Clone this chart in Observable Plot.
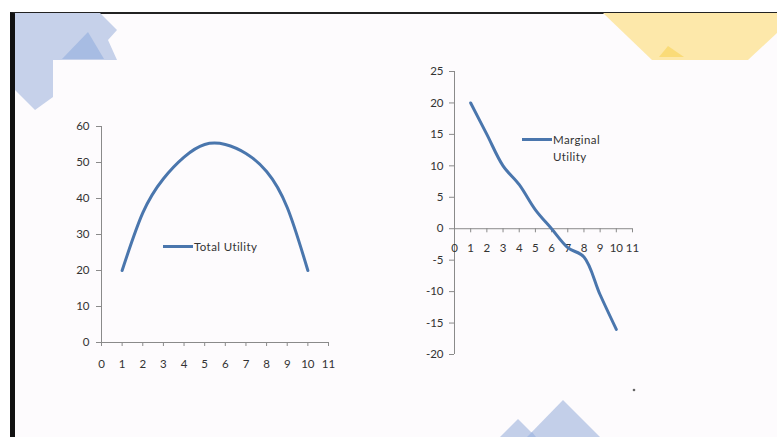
<!DOCTYPE html>
<html>
<head>
<meta charset="utf-8">
<script src="https://cdn.jsdelivr.net/npm/d3@7"></script>
<script src="https://cdn.jsdelivr.net/npm/@observablehq/plot@0.6"></script>
<style>
html, body { margin: 0; padding: 0; background: #ffffff; }
body { width: 777px; height: 437px; position: relative; overflow: hidden; font-family: Lato, "Open Sans", sans-serif; }
#slide { position: absolute; left: 10px; top: 12px; width: 767px; height: 425px; background: #fdfbfd;
  border-left: 5px solid #111; border-top: 2px solid #222; box-sizing: border-box; }
#deco { position: absolute; left: 0; top: 0; }
.chart { position: absolute; }
.legend { position: absolute; font-size: 11.5px; color: #333; line-height: 17px; display: flex; letter-spacing: 0.4px; }
.swatch { width: 30px; height: 3px; background: #4a76ad; margin-top: 7px; margin-right: 1px; flex: none; }
</style>
</head>
<body>
<div id="slide"></div>
<svg id="deco" width="777" height="437">
  <polygon points="15,13 100,13 117,30 108,40 117,60 53,60 53,97 35,110 15,90" fill="#c6d1ea"/>
  <polygon points="88,32 62,59 104,59" fill="#a7bce3"/>
  <polygon points="603,13 777,13 777,33 748,60 652,60" fill="#fde8aa"/>
  <polygon points="668,46 659,57 684,57" fill="#f8d662" opacity="0.7"/>
  <polygon points="563,400 527,437 600,437" fill="#c3cfe9"/>
  <polygon points="518,419 500,437 536,437" fill="#c3cfe9"/>
  <polygon points="527,437 532,432 536,437" fill="#a9bde3"/>
  <circle cx="634" cy="390" r="1.3" fill="#666"/>
</svg>
<div id="left" class="chart" style="left:60px; top:110px;"></div>
<div id="right" class="chart" style="left:410px; top:55px;"></div>
<div class="legend" style="left:163px; top:238px;"><div class="swatch"></div><div>Total Utility</div></div>
<div class="legend" style="left:522px; top:131px;"><div class="swatch"></div><div>Marginal<br>Utility</div></div>
<script>
// ---- data ----
const units = [1, 2, 3, 4, 5, 6, 7, 8, 9, 10];
const totalUtility = [20, 36, 45.5, 51.5, 55, 55, 52.5, 47.5, 37.5, 20];
const marginalUtility = [20, 15, 10, 7, 3, 0, -3, -4.5, -10.5, -16];
const xTicks = [0, 1, 2, 3, 4, 5, 6, 7, 8, 9, 10, 11];
const tuTicks = [0, 10, 20, 30, 40, 50, 60];
const muTicks = [-20, -15, -10, -5, 0, 5, 10, 15, 20, 25];

const tuData = units.map((u, i) => ({u, v: totalUtility[i]}));
const muData = units.map((u, i) => ({u, v: marginalUtility[i]}));

const lineColor = "#4a76ad";
const axisColor = "#8a8a8a";
const textColor = "#333333";
const baseStyle = {background: "transparent", fontFamily: "Lato, 'Open Sans', sans-serif", fontSize: "11.5px", color: textColor, overflow: "visible"};

const left = Plot.plot({
  width: 290, height: 270,
  marginLeft: 41, marginRight: 22, marginTop: 16, marginBottom: 38,
  style: baseStyle,
  x: {domain: [0, 11]},
  y: {domain: [0, 60]},
  marks: [
    Plot.axisY({ticks: tuTicks, tickSize: 5, tickPadding: 7, label: null, stroke: axisColor}),
    Plot.axisX({ticks: xTicks, tickSize: 4, tickPadding: 13, label: null, stroke: axisColor}),
    Plot.ruleX([0], {stroke: axisColor}),
    Plot.ruleY([0], {stroke: axisColor}),
    Plot.line(tuData, {x: "u", y: "v", curve: "natural", stroke: lineColor, strokeWidth: 3})
  ]
});
document.getElementById("left").appendChild(left);

const right = Plot.plot({
  width: 240, height: 310,
  marginLeft: 44, marginRight: 18, marginTop: 16, marginBottom: 11,
  style: baseStyle,
  x: {domain: [0, 11], axis: null},
  y: {domain: [-20, 25]},
  marks: [
    Plot.axisY({ticks: muTicks, tickSize: 5, tickPadding: 6, label: null, stroke: axisColor, tickFormat: d => String(d)}),
    Plot.ruleX([0], {stroke: axisColor}),
    Plot.ruleY([0], {stroke: axisColor}),
    Plot.ruleX(xTicks, {x: d => d, y1: 0, y2: -0.65, stroke: axisColor}),
    Plot.text(xTicks, {x: d => d, y: () => 0, text: d => String(d), dy: 20, fill: textColor}),
    Plot.line(muData, {x: "u", y: "v", curve: "catmull-rom", stroke: lineColor, strokeWidth: 3})
  ]
});
document.getElementById("right").appendChild(right);
</script>
</body>
</html>
